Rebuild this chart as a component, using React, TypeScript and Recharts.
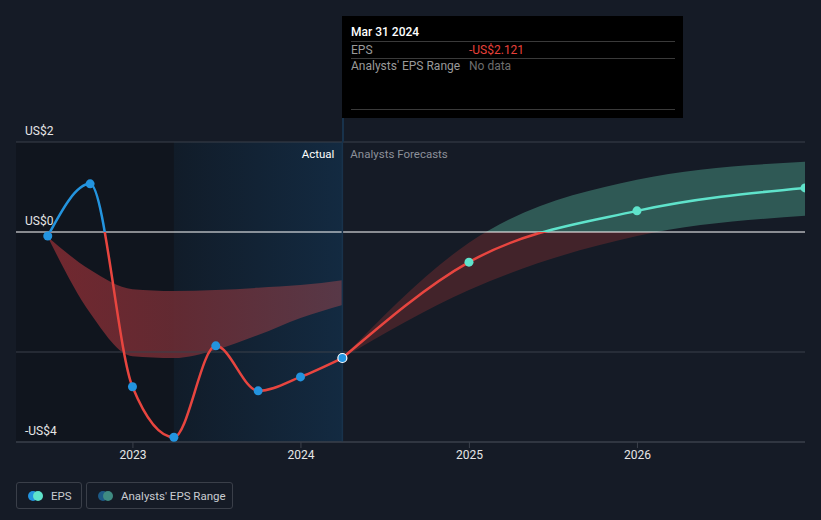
import React from 'react'
import {
  ComposedChart,
  Line,
  Area,
  XAxis,
  YAxis,
  ReferenceLine,
  ReferenceArea,
} from 'recharts'

// EPS history (quarter ends), US$
const PAST_DATES = ['2022-06-30', '2022-09-30', '2022-12-31', '2023-03-31', '2023-06-30', '2023-09-30', '2023-12-31', '2024-03-31']
const PAST_EPS = [-0.09, 1.07, -3.44, -4.56, -2.53, -3.53, -3.22, -2.8]
const PAST_RANGE_LOW = [-0.11, -1.8, -2.76, -2.8, -2.62, -2.29, -1.91, -1.62]
const PAST_RANGE_HIGH = [-0.11, -0.84, -1.27, -1.31, -1.29, -1.24, -1.18, -1.07]

// Analyst forecasts
const FC_DATES = ['2024-03-31', '2024-12-31', '2025-12-31', '2026-12-31']
const FC_EPS = [-2.8, -0.67, 0.47, 0.98]
const FC_RANGE_LOW = [-2.8, -1.29, -0.09, 0.36]
const FC_RANGE_HIGH = [-2.8, -0.24, 1.16, 1.56]

const YEAR_TICKS = ['2023-01-01', '2024-01-01', '2025-01-01', '2026-01-01']
const Y_TICKS = [2, 0, -14 / 3]
const Y_TICK_LABELS = ['US$2', 'US$0', '-US$4']
const Y_GRID = [2, -8 / 3, -14 / 3]

const X_START = '2022-04-22'
const X_END = '2026-12-31'
const HIGHLIGHT_START = '2023-03-31'
const SPLIT_DATE = '2024-03-31'

const W = 821
const H = 520
const MARGIN = { top: 142, right: 16, left: 16, bottom: 48 }
const X_AXIS_H = 30

const BG = '#151b26'
const RED = '#e8453f'
const BLUE = '#2394df'
const TEAL = '#5fe3cb'
const FONT = 'Roboto, "Noto Sans", sans-serif'

const ts = (d: string) => new Date(d + 'T00:00:00Z').getTime()

// merge both series into one table keyed by date
const rows: Record<string, any> = {}
PAST_DATES.forEach((d, i) => {
  rows[d] = { ...(rows[d] || { t: ts(d) }), eps: PAST_EPS[i], pastRange: [PAST_RANGE_LOW[i], PAST_RANGE_HIGH[i]] }
})
FC_DATES.forEach((d, i) => {
  rows[d] = { ...(rows[d] || { t: ts(d) }), fcEps: FC_EPS[i], fcRange: [FC_RANGE_LOW[i], FC_RANGE_HIGH[i]] }
})
const chartData = Object.values(rows).sort((a: any, b: any) => a.t - b.t)

const Y_MAX = Y_TICKS[0]
const Y_MIN = Y_TICKS[Y_TICKS.length - 1]
const plotH = H - MARGIN.top - MARGIN.bottom - X_AXIS_H
const zeroY = MARGIN.top + ((Y_MAX - 0) / (Y_MAX - Y_MIN)) * plotH
const zeroOff = zeroY / H

const PastDot = (props: any) => {
  const { cx, cy, payload } = props
  if (cx == null || cy == null) return <g />
  const last = payload.t === ts(SPLIT_DATE)
  return <circle cx={cx} cy={cy} r={4.5} fill={BLUE} stroke={last ? '#fff' : 'none'} strokeWidth={1.2} />
}

const FcDot = (props: any) => {
  const { cx, cy, payload } = props
  if (cx == null || cy == null || payload.t === ts(SPLIT_DATE)) return <g />
  return <circle cx={cx} cy={cy} r={4.5} fill={TEAL} />
}

const SplitLabel = (props: any) => {
  const { viewBox } = props
  const x = viewBox.x
  const y = viewBox.y + 16
  return (
    <g fontFamily={FONT} fontSize={11.5}>
      <text x={x - 8} y={y} textAnchor="end" fill="#ffffff">Actual</text>
      <text x={x + 8} y={y} textAnchor="start" fill="#8c9099">Analysts Forecasts</text>
    </g>
  )
}

const YLabel = (text: string) => (props: any) => {
  const { viewBox } = props
  return (
    <text x={viewBox.x + 9} y={viewBox.y - 7} fill="#e6e6e6" fontSize={12} fontFamily={FONT}>
      {text}
    </text>
  )
}

function LegendBox({ left, width, c1, c2, label }: any) {
  return (
    <div
      style={{
        position: 'absolute', left, top: 482, width, height: 27, boxSizing: 'border-box',
        border: '1px solid #3a3f49', borderRadius: 3, display: 'flex', alignItems: 'center',
        paddingLeft: 11, color: '#c9ccd1', fontSize: 11.5, fontFamily: FONT,
      }}
    >
      <span style={{ position: 'relative', width: 15, height: 10, marginRight: 8 }}>
        <span style={{ position: 'absolute', left: 0, top: 0, width: 10, height: 10, borderRadius: 5, background: c1 }} />
        <span style={{ position: 'absolute', left: 5, top: 0, width: 10, height: 10, borderRadius: 5, background: c2 }} />
      </span>
      {label}
    </div>
  )
}

const tipText = (left: number, top: number, color: string, extra: any = {}) => ({
  position: 'absolute' as const, left, top, color, lineHeight: '14px', ...extra,
})
const tipRule = (top: number) => ({
  position: 'absolute' as const, left: 9, right: 8, top, height: 1, background: '#3a3a3a',
})

export default function App() {
  return (
    <div style={{ position: 'absolute', left: 0, top: 0, width: W, height: H, background: BG, overflow: 'hidden', fontFamily: FONT }}>
      <ComposedChart width={W} height={H} data={chartData} margin={MARGIN}>
        <defs>
          <linearGradient id="hlFill" x1="0" y1="0" x2="1" y2="0">
            <stop offset="0%" stopColor="#111c29" />
            <stop offset="100%" stopColor="#132a41" />
          </linearGradient>
          <linearGradient id="pastBand" x1="0" y1="0" x2="1" y2="0">
            <stop offset="0%" stopColor="#7c2a31" />
            <stop offset="45%" stopColor="#6a2c34" />
            <stop offset="100%" stopColor="#5f3a48" />
          </linearGradient>
          <linearGradient id="signLine" gradientUnits="userSpaceOnUse" x1="0" y1="0" x2="0" y2={H}>
            <stop offset={zeroOff} stopColor={BLUE} />
            <stop offset={zeroOff} stopColor={RED} />
          </linearGradient>
          <linearGradient id="signFc" gradientUnits="userSpaceOnUse" x1="0" y1="0" x2="0" y2={H}>
            <stop offset={zeroOff} stopColor={TEAL} />
            <stop offset={zeroOff} stopColor={RED} />
          </linearGradient>
          <linearGradient id="signBand" gradientUnits="userSpaceOnUse" x1="0" y1="0" x2="0" y2={H}>
            <stop offset={zeroOff} stopColor="#2f5955" />
            <stop offset={zeroOff} stopColor="#42232a" />
          </linearGradient>
        </defs>

        <XAxis
          dataKey="t"
          type="number"
          domain={[ts(X_START), ts(X_END)]}
          ticks={YEAR_TICKS.map(ts)}
          tickFormatter={(v: number) => String(new Date(v).getUTCFullYear())}
          height={X_AXIS_H}
          stroke="#3b404b"
          tick={{ fill: '#e6e6e6', fontSize: 12, fontFamily: FONT }}
          tickLine={{ stroke: '#3b404b' }}
          allowDataOverflow
        />
        <YAxis hide type="number" domain={[Y_MIN, Y_MAX]} allowDataOverflow />

        <ReferenceArea x1={ts(X_START)} x2={ts(HIGHLIGHT_START)} y1={Y_MIN} y2={Y_MAX} fill="#10151e" fillOpacity={1} stroke="none" />
        <ReferenceArea x1={ts(HIGHLIGHT_START)} x2={ts(SPLIT_DATE)} y1={Y_MIN} y2={Y_MAX} fill="url(#hlFill)" fillOpacity={1} stroke="none" />

        {Y_GRID.map((v) => (
          <ReferenceLine key={v} y={v} stroke="#3b404b" />
        ))}

        <Area
          dataKey="pastRange"
          type="monotone"
          stroke="none"
          fill="url(#pastBand)"
          fillOpacity={0.9}
          connectNulls
          isAnimationActive={false}
        />
        <Area
          dataKey="fcRange"
          type="monotone"
          stroke="none"
          fill="url(#signBand)"
          fillOpacity={1}
          connectNulls
          isAnimationActive={false}
        />

        <ReferenceLine y={0} stroke="#ffffff" strokeWidth={1.2} />
        <ReferenceLine x={ts(SPLIT_DATE)} stroke="#18324b" strokeWidth={1.5} label={<SplitLabel />} />
        {Y_TICKS.map((v, i) => (
          <ReferenceLine key={'l' + i} y={v} stroke="none" label={YLabel(Y_TICK_LABELS[i])} />
        ))}

        <Line
          dataKey="fcEps"
          type="monotone"
          stroke="url(#signFc)"
          strokeWidth={2.5}
          dot={<FcDot />}
          activeDot={false}
          connectNulls
          isAnimationActive={false}
        />
        <Line
          dataKey="eps"
          type="monotone"
          stroke="url(#signLine)"
          strokeWidth={2.5}
          dot={<PastDot />}
          activeDot={false}
          connectNulls
          isAnimationActive={false}
        />
      </ComposedChart>

      {/* hover card */}
      <div style={{ position: 'absolute', left: 342, top: 117, width: 1.5, height: 25, background: '#18324b' }} />
      <div style={{ position: 'absolute', left: 342, top: 16, width: 341, height: 102, background: '#000', fontSize: 12 }}>
        <div style={tipText(9, 9, '#fff', { fontWeight: 500 })}>Mar 31 2024</div>
        <div style={tipRule(25)} />
        <div style={tipText(9, 27, '#9a9a9a')}>EPS</div>
        <div style={tipText(127, 27, '#e8403a')}>-US$2.121</div>
        <div style={tipRule(42)} />
        <div style={tipText(9, 43, '#9a9a9a')}>Analysts' EPS Range</div>
        <div style={tipText(127, 43, '#6e6e6e')}>No data</div>
        <div style={tipRule(93)} />
      </div>

      <LegendBox left={16} width={66} c1={BLUE} c2={TEAL} label="EPS" />
      <LegendBox left={86} width={147} c1="#1d5a86" c2="#3f8b82" label="Analysts' EPS Range" />
    </div>
  )
}
